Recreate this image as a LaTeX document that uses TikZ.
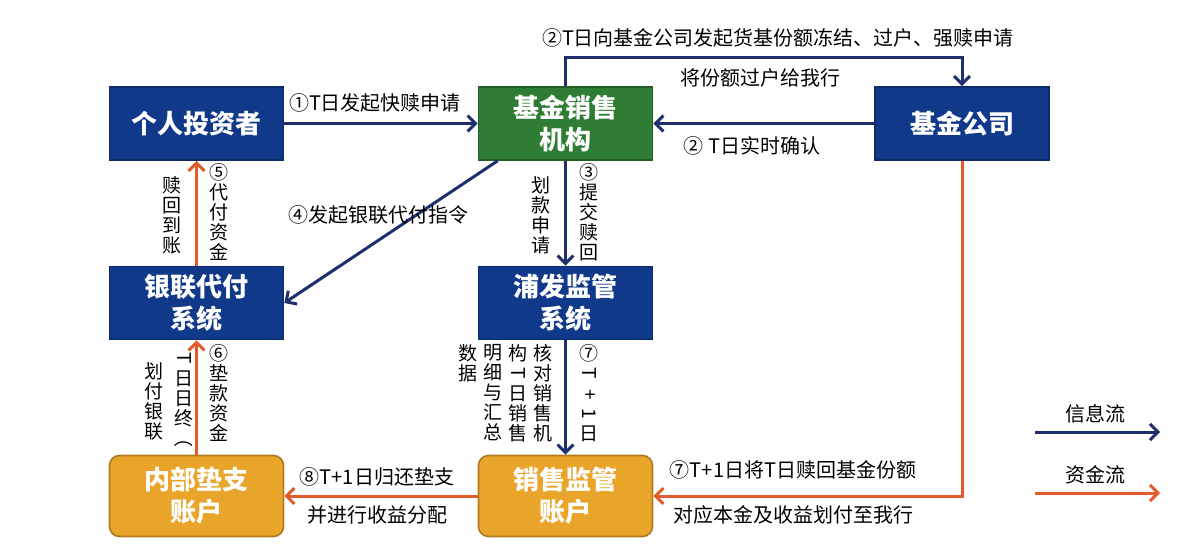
\documentclass[tikz,border=0pt]{standalone}
\usepackage{fontspec}
\setmainfont{Noto Sans CJK SC}
\usepackage{graphicx}
\usetikzlibrary{arrows.meta}

\definecolor{boxblue}{HTML}{11398A}
\definecolor{boxgreen}{HTML}{2F7D34}
\definecolor{boxorange}{HTML}{E9A42A}
\definecolor{infoline}{HTML}{1F2F6E}
\definecolor{cashline}{HTML}{E25C2B}

% one character per line, latin letters turned on their side
\newcommand{\rt}[1]{\rotatebox[origin=c]{-90}{#1}}

\begin{document}
\begin{tikzpicture}[x=0.5pt,y=-0.5pt,
    box/.style={draw=#1!75!black, fill=#1, line width=0.8pt, text=white,
      font=\fontsize{13}{16}\selectfont\bfseries, align=center,
      minimum width=87pt, minimum height=36.5pt, inner sep=0pt},
    acct/.style={box=boxorange, rounded corners=5pt, minimum height=40.5pt},
    lbl/.style={font=\fontsize{10}{11}\selectfont, inner sep=1pt},
    vlbl/.style={lbl, font=\fontsize{9.5}{10}\selectfont, align=center, anchor=north},
    info/.style={draw=infoline, line width=1.5pt, -{Straight Barb[length=4pt,width=8pt]}},
    cash/.style={draw=cashline, line width=1.5pt, -{Straight Barb[length=4pt,width=8pt]}}]

  \useasboundingbox (0,0) rectangle (1182,550);

  % the boxes
  \node[box=boxblue]  (inv)   at (196.5,123.5) {个人投资者};
  \node[box=boxgreen] (sale)  at (565.5,123.5) {基金销售\\机构};
  \node[box=boxblue]  (fund)  at (962,123.5)   {基金公司};
  \node[box=boxblue]  (upay)  at (196.5,303)   {银联代付\\系统};
  \node[box=boxblue]  (spdb)  at (565.5,303)   {浦发监管\\系统};
  \node[acct]         (adv)   at (196.5,496)   {内部垫支\\账户};
  \node[acct]         (supv)  at (565.5,496)   {销售监管\\账户};

  % information flow
  \draw[info] (inv) -- (sale);
  \draw[info] (sale.north) -- ++(0,-29) -| (fund.north);
  \draw[info] (fund) -- (sale);
  \draw[info] (sale) -- (spdb);
  \draw[info] ([xshift=10pt]sale.south west) -- (upay.east);
  \draw[info] (spdb) -- (supv);

  % money flow
  \draw[cash] (upay) -- (inv);
  \draw[cash] (adv) -- (upay);
  \draw[cash] (fund.south) |- (supv.east);
  \draw[cash] (supv) -- (adv);

  % labels on the lines
  \node[lbl] (l1)  at (375,103) {①T日发起快赎申请};
  \node[lbl] (l2a) at (778,38)  {②T日向基金公司发起货基份额冻结、过户、强赎申请};
  \node[lbl] (l2b) at (760,78)  {将份额过户给我行};
  \node[lbl] (l2c) at (752,146) {② T日实时确认};
  \node[lbl] (l4)  at (378,215) {④发起银联代付指令};
  \node[lbl] (l7a) at (793,470) {⑦T+1日将T日赎回基金份额};
  \node[lbl] (l7b) at (793,515) {对应本金及收益划付至我行};
  \node[lbl] (l8a) at (377,477) {⑧T+1日归还垫支};
  \node[lbl] (l8b) at (377,515) {并进行收益分配};

  % upright columns
  \node[vlbl] (v5a) at (219,161) {⑤\\代\\付\\资\\金};
  \node[vlbl] (v5b) at (172,174) {赎\\回\\到\\账};
  \node[vlbl] (v6a) at (219,342) {⑥\\垫\\款\\资\\金};
  \node[vlbl] (v6b) at (184,350) {\rt{T}\\日\\日\\终\\\rt{（}};
  \node[vlbl] (v6c) at (154,360) {划\\付\\银\\联};
  \node[vlbl] (v3a) at (589,161) {③\\提\\交\\赎\\回};
  \node[vlbl] (v3b) at (541,174) {划\\款\\申\\请};
  \node[vlbl] (v7)  at (589,342) {⑦\\\rt{T}\\\rt{+}\\\rt{1}\\日};
  \node[vlbl] (vc1) at (543,342) {核\\对\\销\\售\\机};
  \node[vlbl] (vc2) at (518,342) {构\\\rt{T}\\日\\销\\售};
  \node[vlbl] (vc3) at (493,342) {明\\细\\与\\汇\\总};
  \node[vlbl] (vc4) at (468,342) {数\\据};

  % key
  \coordinate (k1a) at (1035,432);
  \coordinate (k1b) at (1160,432);
  \coordinate (k2a) at (1035,493);
  \coordinate (k2b) at (1160,493);
  \draw[info] (k1a) -- (k1b);
  \draw[cash] (k2a) -- (k2b);
  \node[lbl] (key1) at (1095,414) {信息流};
  \node[lbl] (key2) at (1095,475) {资金流};
\end{tikzpicture}
\end{document}
